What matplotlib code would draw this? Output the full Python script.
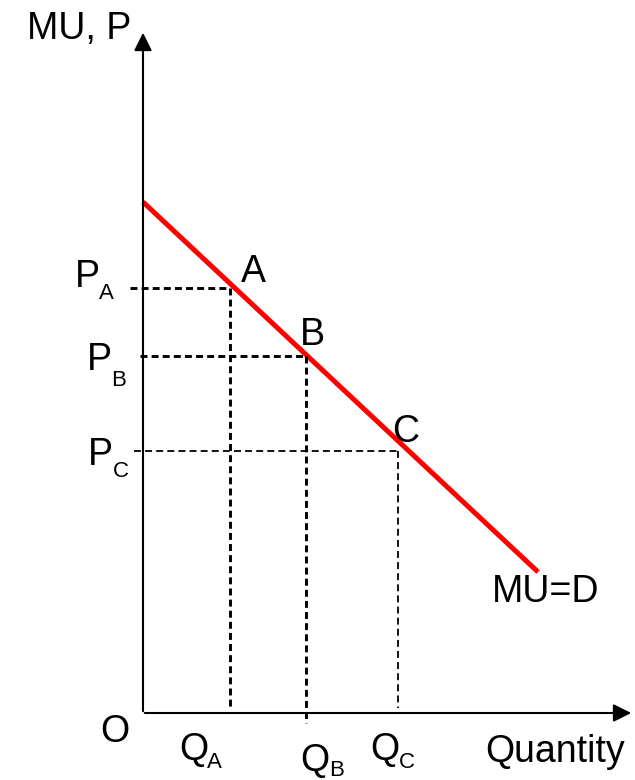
import matplotlib.pyplot as plt

plt.rcParams['font.family'] = ['Liberation Sans', 'DejaVu Sans']
plt.rcParams['lines.scale_dashes'] = False

# demand (MU) curve, in quantity / price units
demand_q = [0.0, 39.5]
demand_p = [51.1, 14.1]

# points on the curve
point_names = ['A', 'B', 'C']
point_q = [8.7, 16.3, 25.5]
point_p = [42.5, 35.7, 26.2]

fig = plt.figure(figsize=(6.35, 7.8), dpi=100)
ax = fig.add_axes([0, 0, 1, 1])
ax.set_xlim(-14.3, 49.2)
ax.set_ylim(-6.7, 71.3)
ax.axis('off')


def at(x, y):
    # pixel position in the picture -> data units
    return (x - 143) / 10.0, (713 - y) / 10.0


fs = 27
sub = 16

# axes with arrows
ax.annotate('', xy=(0, 68.3), xytext=(0, -0.1),
            arrowprops=dict(arrowstyle='-|>', lw=1.5, color='black', mutation_scale=27))
ax.annotate('', xy=(49.1, 0), xytext=(-0.1, 0),
            arrowprops=dict(arrowstyle='-|>', lw=1.5, color='black', mutation_scale=27))

# demand line
ax.plot(demand_q, demand_p, color='#ff0000', lw=3.6, solid_capstyle='butt')

# dashed guides
guide_lw = [2.1, 2.1, 1.3]
guide_bottom = [0.5, -1.0, 0.5]
guide_left = [-1.3, -0.3, -0.9]
for i in range(3):
    ax.plot([guide_left[i], point_q[i]], [point_p[i], point_p[i]], color='black',
            lw=guide_lw[i], dashes=(5, 3))
    ax.plot([point_q[i], point_q[i]], [point_p[i], guide_bottom[i]], color='black',
            lw=guide_lw[i], dashes=(5, 3))

# point labels
for name, xy in zip(point_names, [(253, 282), (312, 345), (406, 442)]):
    ax.text(*at(*xy), name, fontsize=fs, ha='center', va='baseline')

# price labels on y-axis
p_main = [(75, 287), (87, 370), (88, 465)]
p_sub = [(99, 299), (111, 386), (113, 477)]
for name, m, s in zip(point_names, p_main, p_sub):
    ax.text(*at(*m), 'P', fontsize=fs, ha='left', va='baseline')
    ax.text(*at(*s), name, fontsize=sub, ha='left', va='baseline')

# quantity labels on x-axis
q_main = [(179, 760), (300, 771), (370, 760)]
q_sub = [(207, 768), (329, 776), (399, 768)]
for name, m, s in zip(point_names, q_main, q_sub):
    ax.text(*at(*m), 'Q', fontsize=fs, ha='left', va='baseline')
    ax.text(*at(*s), name, fontsize=sub, ha='left', va='baseline')

ax.text(*at(100, 742), 'O', fontsize=fs, ha='left', va='baseline')
ax.text(*at(27, 39), 'MU, P', fontsize=fs, ha='left', va='baseline')
ax.text(*at(485, 762), 'Quantity', fontsize=fs, ha='left', va='baseline')
ax.text(*at(492, 602), 'MU=D', fontsize=fs, ha='left', va='baseline')

fig.savefig('out.png', dpi=100)
